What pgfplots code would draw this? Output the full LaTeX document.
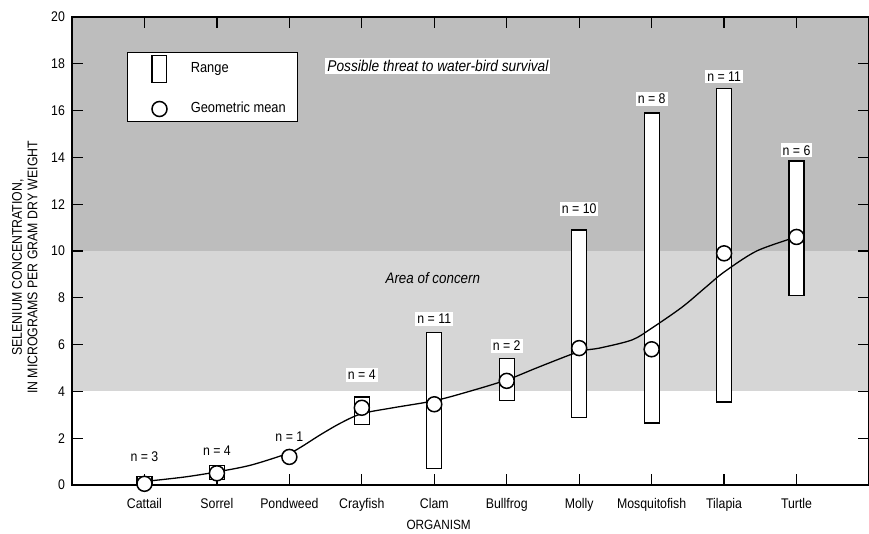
\documentclass[border=0pt]{standalone}
\usepackage{fontspec}
\setmainfont{Liberation Sans}[FakeStretch=0.88]
\usepackage{pgfplots}
\pgfplotsset{compat=1.18}

\pgfplotsset{
  sechart/.style={
    width=398.5pt, height=234pt, scale only axis,
    xmin=0, xmax=11, ymin=0, ymax=20,
  },
}
\tikzset{nlab/.style={fill=white, inner sep=1pt, font=\fontsize{7}{8}\selectfont}}

\begin{document}
\begin{tikzpicture}
% shaded zones
\begin{axis}[sechart, hide axis]
\addplot[fill=black!16, draw=none] coordinates {(0,4)(11,4)(11,10)(0,10)} -- cycle;
\addplot[fill=black!26, draw=none] coordinates {(0,10)(11,10)(11,20)(0,20)} -- cycle;
\end{axis}
% range bars (low part invisible, range part white)
\begin{axis}[sechart, hide axis, ybar stacked, bar width=7.5pt]
\addplot[draw=none, fill=none] coordinates {
(1,0)(2,0.25)(3,0)(4,2.6)(5,0.7)(6,3.6)(7,2.9)(8,2.65)(9,3.55)(10,8.1)};
\addplot[draw=black, fill=white, line width=0.6pt] coordinates {
(1,0.35)(2,0.6)(3,0)(4,1.16)(5,5.8)(6,1.8)(7,8.0)(8,13.25)(9,13.4)(10,5.75)};
\end{axis}

\begin{axis}[sechart, name=ax,
  axis line style={line width=0.8pt},
  tick align=inside, major tick length=5.5pt,
  tick style={black, line width=0.6pt},
  xtick={1,...,10},
  xticklabels={Cattail,Sorrel,Pondweed,Crayfish,Clam,Bullfrog,Molly,Mosquitofish,Tilapia,Turtle},
  ytick={0,2,...,20},
  xtick pos=both, ytick pos=both,
  xticklabel pos=left, yticklabel pos=left,
  ticklabel style={font=\fontsize{7}{8}\selectfont},
  xticklabel style={yshift=-3pt},
  /pgf/number format/assume math mode=true,
  xlabel={ORGANISM},
  xlabel style={font=\fontsize{6.7}{8}\selectfont, at={(ticklabel cs:0.46)}, yshift=2.5pt},
  ylabel={SELENIUM CONCENTRATION,\\IN MICROGRAMS PER GRAM DRY WEIGHT},
  ylabel style={align=center, font=\fontsize{7}{7.8}\selectfont, at={(ticklabel cs:0.465)}},
  legend style={at={(rel axis cs:0.069,0.925)}, anchor=north west,
    draw=black, line width=0.6pt, fill=white,
    font=\fontsize{7.3}{9}\selectfont, row sep=7.5pt,
    inner xsep=4pt, inner ysep=1pt},
  legend cell align=left,
  clip=false,
]
% fitted curve
\addplot[forget plot, black, line width=0.65pt, smooth, tension=0.5, no marks] coordinates {
(1,0.15)(1.55,0.34)(2,0.56)(2.47,0.85)(3,1.37)(3.16,1.62)(3.43,2.15)(3.71,2.65)
(4,3.05)(4.43,3.3)(5,3.6)(5.45,3.97)(6,4.49)(6.45,5.05)(7,5.7)(7.28,5.85)
(7.73,6.2)(8,6.7)(8.42,7.6)(8.75,8.46)(9,9.1)(9.45,10.0)(10,10.6)};
% geometric means
\addplot[forget plot, only marks, mark=*, mark size=3.75pt,
  mark options={fill=white, draw=black, line width=0.75pt}] coordinates {
(1,0.05)(2,0.5)(3,1.2)(4,3.3)(5,3.45)(6,4.45)(7,5.85)(8,5.8)(9,9.9)(10,10.6)};

\addlegendimage{legend image code/.code={
  \path[draw=none, fill=none] (0,-0.24cm) rectangle (0.9cm,0.24cm);
  \draw[black, line width=0.6pt, fill=white] (0.29cm,-0.24cm) rectangle (0.55cm,0.24cm);}}
\addlegendentry{Range}
\addlegendimage{legend image code/.code={
  \path[draw=none, fill=none] (0,-0.15cm) rectangle (0.9cm,0.15cm);
  \draw[black, line width=0.75pt, fill=white] (0.42cm,0) circle (3.75pt);}}
\addlegendentry{Geometric mean}

\node[nlab] at (axis cs:1,1.2) {n = 3};
\node[nlab] at (axis cs:2,1.45) {n = 4};
\node[nlab] at (axis cs:3,2.05) {n = 1};
\node[nlab] at (axis cs:4,4.7) {n = 4};
\node[nlab] at (axis cs:5,7.1) {n = 11};
\node[nlab] at (axis cs:6,5.95) {n = 2};
\node[nlab] at (axis cs:7,11.8) {n = 10};
\node[nlab] at (axis cs:8,16.5) {n = 8};
\node[nlab] at (axis cs:9,17.45) {n = 11};
\node[nlab] at (axis cs:10,14.3) {n = 6};

\node[fill=white, inner sep=1pt, font=\fontsize{7.8}{9}\itshape] at (axis cs:5.05,17.9)
  {Possible threat to water-bird survival};
\node[font=\fontsize{7.6}{9}\itshape] at (axis cs:4.98,8.85) {Area of concern};
\end{axis}
\pgfresetboundingbox
\path ([shift={(-36pt,-24.5pt)}]ax.south west) rectangle ([shift={(0pt,8.5pt)}]ax.north east);
\end{tikzpicture}
\end{document}
